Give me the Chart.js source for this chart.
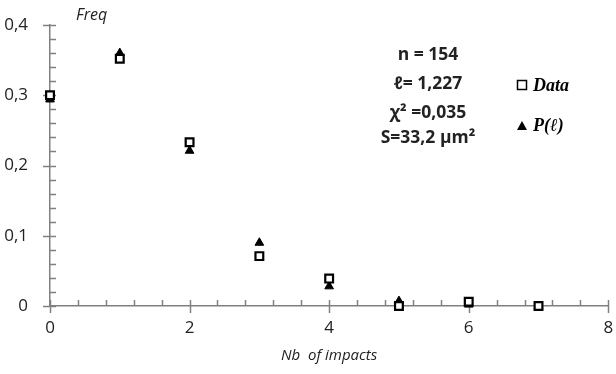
<!DOCTYPE html>
<html>
<head>
<meta charset="utf-8">
<script src="https://cdn.jsdelivr.net/npm/chart.js@4"></script>
<style>
  html, body { margin: 0; padding: 0; background: #fff; }
  #wrap { width: 616px; height: 374px; }
</style>
</head>
<body>
<div id="wrap"><canvas id="c"></canvas></div>
<script>
// values
const impacts = [0, 1, 2, 3, 4, 5, 6, 7];
const dataFreq = [0.300, 0.352, 0.233, 0.071, 0.039, 0.000, 0.006, 0.000];
const poissonFreq = [0.294, 0.360, 0.221, 0.090, 0.028, 0.007, 0.002, 0.000];
const xTicks = [0, 2, 4, 6, 8];
const yTicks = [0, 0.1, 0.2, 0.3, 0.4];
const infoLines = ["n = 154", "ℓ= 1,227", "χ² =0,035", "S=33,2 µm²"];

const axisGrey = "#808080";
const font = "'Open Sans', 'Noto Sans', sans-serif";

const toPoints = (ys) => impacts.map((x, i) => ({ x: x, y: ys[i] }));

// minor/major ticks, info text, legend, Freq label
const decorations = {
  id: "decorations",
  beforeDatasetsDraw(chart) {
    const ctx = chart.ctx;
    const xs = chart.scales.x;
    const ys = chart.scales.y;
    const x0 = xs.getPixelForValue(0);
    const y0 = ys.getPixelForValue(0);
    ctx.save();
    ctx.strokeStyle = axisGrey;
    ctx.lineWidth = 1.5;
    // y ticks
    for (let k = 0; k <= 20; k++) {
      const py = Math.round(ys.getPixelForValue(k * 0.02)) + 0.5;
      const major = k % 5 === 0;
      ctx.beginPath();
      ctx.moveTo(major ? x0 - 7 : x0, py);
      ctx.lineTo(x0 + 6, py);
      ctx.stroke();
    }
    // x ticks
    for (let k = 0; k <= 20; k++) {
      const px = Math.round(xs.getPixelForValue(k * 0.4)) + 0.5;
      const major = k % 5 === 0;
      ctx.beginPath();
      ctx.moveTo(px, y0 - 6);
      ctx.lineTo(px, major ? y0 + 7 : y0);
      ctx.stroke();
    }
    ctx.restore();
  },
  afterDraw(chart) {
    const ctx = chart.ctx;
    ctx.save();
    // Freq label
    ctx.fillStyle = "#222";
    ctx.font = "italic 16px " + font;
    ctx.textAlign = "left";
    ctx.textBaseline = "middle";
    ctx.fillText("Freq", 76, 15);
    // info text block
    ctx.font = "bold 17.5px " + font;
    ctx.textAlign = "center";
    const lineY = [55, 84, 113, 138];
    infoLines.forEach((t, i) => ctx.fillText(t, 428, lineY[i]));
    // legend
    ctx.lineWidth = 1.5;
    ctx.strokeStyle = "#000";
    ctx.strokeRect(517.5, 80.5, 9, 9);
    ctx.fillStyle = "#000";
    ctx.beginPath();
    ctx.moveTo(517, 130);
    ctx.lineTo(527, 130);
    ctx.lineTo(522, 121);
    ctx.closePath();
    ctx.fill();
    ctx.font = "bold italic 18px 'Liberation Serif', 'DejaVu Serif', serif";
    ctx.textAlign = "left";
    ctx.fillText("Data", 533, 86);
    ctx.fillText("P(ℓ)", 533, 126);
    ctx.restore();
  }
};

new Chart(document.getElementById("c"), {
  type: "scatter",
  data: {
    datasets: [
      {
        label: "Data",
        data: toPoints(dataFreq),
        pointStyle: "rect",
        pointRadius: 5.5,
        backgroundColor: "#fff",
        borderColor: "#000",
        borderWidth: 2.2,
        clip: false,
        order: 1
      },
      {
        label: "P(l)",
        data: toPoints(poissonFreq),
        pointStyle: "triangle",
        pointRadius: 5,
        backgroundColor: "#000",
        borderColor: "#000",
        borderWidth: 1,
        clip: false,
        order: 2
      }
    ]
  },
  options: {
    responsive: true,
    maintainAspectRatio: false,
    animation: false,
    layout: { padding: { top: 25, right: 0, left: 0, bottom: 0 } },
    plugins: {
      legend: { display: false },
      tooltip: { enabled: false }
    },
    scales: {
      x: {
        type: "linear",
        min: 0,
        max: 8,
        afterBuildTicks: (s) => { s.ticks = xTicks.map((v) => ({ value: v })); },
        afterFit: (s) => { s.height = 68; s.paddingRight = 5; },
        grid: { display: false },
        border: { display: true, color: axisGrey, width: 1.5 },
        ticks: {
          padding: 4,
          color: "#222",
          font: { family: font, size: 17 },
          callback: (v) => String(v)
        },
        title: {
          display: true,
          text: "Nb  of impacts",
          color: "#222",
          font: { family: font, size: 15, style: "italic" },
          padding: { top: 4, bottom: 9 }
        }
      },
      y: {
        type: "linear",
        min: 0,
        max: 0.4,
        afterBuildTicks: (s) => { s.ticks = yTicks.map((v) => ({ value: v })); },
        afterFit: (s) => { s.width = 50; },
        grid: { display: false },
        border: { display: true, color: axisGrey, width: 1.5 },
        ticks: {
          padding: 14,
          color: "#222",
          font: { family: font, size: 17 },
          callback: (v) => v === 0 ? "0" : v.toFixed(1).replace(".", ",")
        }
      }
    }
  },
  plugins: [decorations]
});
</script>
</body>
</html>
